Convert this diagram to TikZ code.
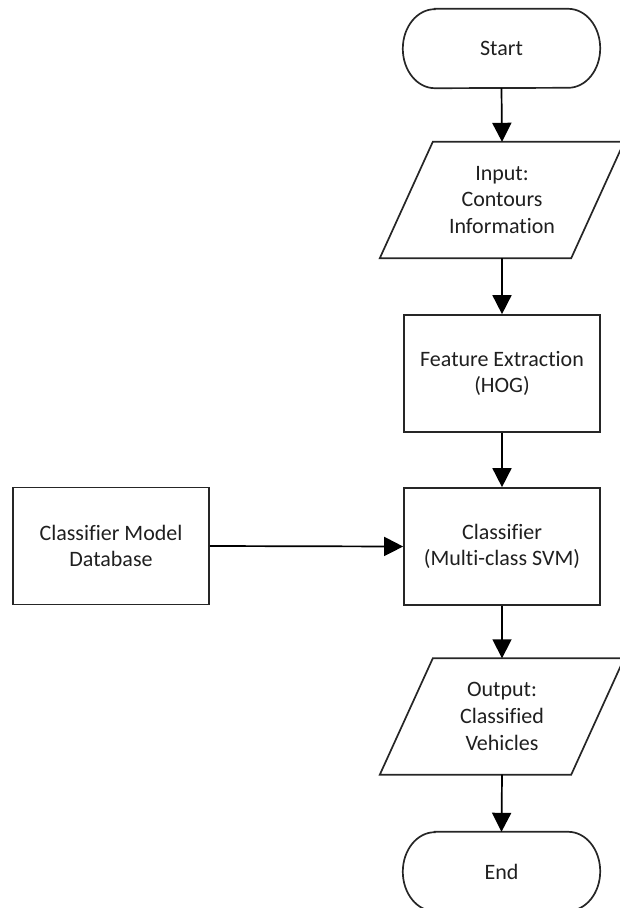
\documentclass[tikz,border=0pt]{standalone}
\usepackage{fontspec}
\setmainfont[Ligatures=NoCommon]{Carlito}
\usetikzlibrary{arrows.meta}
\begin{document}
\begin{tikzpicture}[x=1pt,y=1pt,
  txt/.style={font=\fontsize{22}{26.7}\selectfont, text=black!88, align=center, inner sep=0pt},
  boxnode/.style={txt, draw=black!85, line width=1.7pt, minimum width=196pt, minimum height=117pt},
  termnode/.style={txt, minimum width=197pt, minimum height=79pt},
  ionode/.style={txt, minimum width=244pt, minimum height=116pt},
  outline/.style={draw=black!85, line width=1.7pt, line join=miter},
  flow/.style={draw=black, line width=1.7pt, -{Triangle[length=19pt,width=19pt]}}
]
\useasboundingbox (0,0) rectangle (619,-908);

\node[termnode] (start) at (501.5,-48.5) {Start};
\draw[outline] ([xshift=32pt]start.north west) -- ([xshift=-32pt]start.north east)
  arc[start angle=90,end angle=-90,x radius=32pt,y radius=39.5pt]
  -- ([xshift=32pt]start.south west)
  arc[start angle=270,end angle=90,x radius=32pt,y radius=39.5pt] -- cycle;

\node[ionode] (input) at (502,-200) {Input:\\Contours\\Information};
\draw[outline] ([xshift=53pt]input.north west) -- (input.north east)
  -- ([xshift=-53pt]input.south east) -- (input.south west) -- cycle;

\node[boxnode] (feat) at (502,-373.5) {Feature Extraction\\(HOG)};
\node[boxnode] (clf) at (502,-546.5) {Classifier\\(Multi-class SVM)};
\node[boxnode] (db) at (111,-546) {Classifier Model\\Database};

\node[ionode] (output) at (502,-716.5) {Output:\\Classified\\Vehicles};
\draw[outline] ([xshift=53pt]output.north west) -- (output.north east)
  -- ([xshift=-53pt]output.south east) -- (output.south west) -- cycle;

\node[termnode] (end) at (501.5,-871.5) {End};
\draw[outline] ([xshift=32pt]end.north west) -- ([xshift=-32pt]end.north east)
  arc[start angle=90,end angle=-90,x radius=32pt,y radius=39.5pt]
  -- ([xshift=32pt]end.south west)
  arc[start angle=270,end angle=90,x radius=32pt,y radius=39.5pt] -- cycle;

\draw[flow] (start.south) -- (input.north);
\draw[flow] (input.south) -- (feat.north);
\draw[flow] (feat.south) -- (clf.north);
\draw[flow] (db.east) -- (clf.west);
\draw[flow] (clf.south) -- (output.north);
\draw[flow] (output.south) -- (end.north);
\end{tikzpicture}
\end{document}
